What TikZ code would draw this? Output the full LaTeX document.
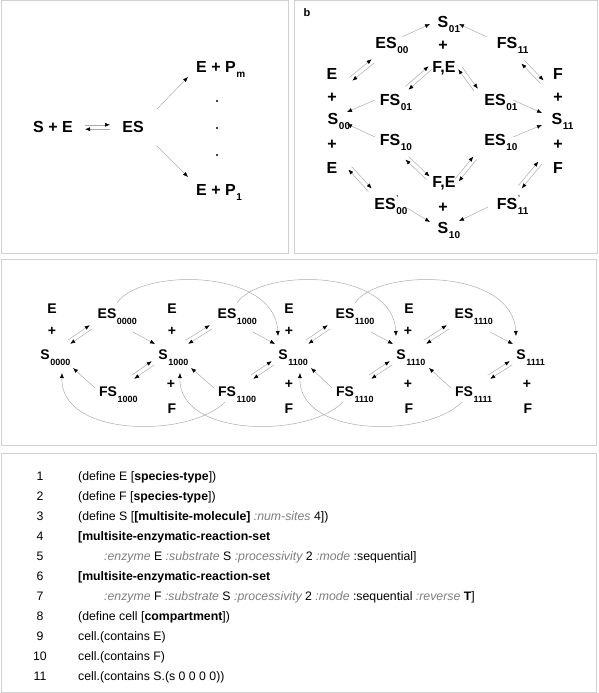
\documentclass[tikz,border=0pt]{standalone}
\usepackage{fontspec}
\setmainfont{Liberation Sans}
\usetikzlibrary{arrows.meta,calc}
\definecolor{kwc}{RGB}{125,125,125}
\definecolor{panelc}{RGB}{208,208,208}
\newcommand\kw[1]{{\color{kwc}\itshape #1}}
\newcommand\sba[1]{\rlap{\kern0.6pt\raisebox{-5pt}[0pt][0pt]{\fontsize{10}{10}\selectfont #1}}}
\newcommand\sbm[1]{\rlap{\kern0.6pt\raisebox{-6pt}[0pt][0pt]{\fontsize{9}{9}\selectfont #1}}}
\newcommand\prm{\rlap{\kern0.8pt\raisebox{9pt}[0pt][0pt]{\fontsize{7}{7}\selectfont '}}}
\newcommand\ra[4]{\draw[ar] ([shift={(#2)}]#1.center) -- ([shift={(#4)}]#3.center);}
\newcommand\rx[4]{%
  \coordinate (rxa) at ([shift={(#2)}]#1.center);
  \coordinate (rxb) at ([shift={(#4)}]#3.center);
  \draw[ar] ($(rxa)!2.2pt!90:(rxb)$) -- ($(rxb)!2.2pt!-90:(rxa)$);
  \draw[ar] ($(rxb)!2.2pt!90:(rxa)$) -- ($(rxa)!2.2pt!-90:(rxb)$);}
\tikzset{
  lab/.style={font=\fontsize{16}{16}\bfseries\selectfont, inner sep=0pt, text height=11.5pt, text depth=0pt},
  labm/.style={font=\fontsize{14}{14}\bfseries\selectfont, inner sep=0pt, text height=10pt, text depth=0pt},
  ar/.style={draw=gray!65, line width=0.5pt, -{Latex[length=5pt,width=4pt,color=black]}},
  panel/.style={draw=panelc, line width=1pt},
  code/.style={font=\fontsize{12.3}{12.3}\selectfont, inner sep=0pt, text height=9pt, text depth=0pt, anchor=west},
  num/.style={font=\fontsize{12.3}{12.3}\selectfont, inner sep=0pt, text height=9pt, text depth=0pt},
  dot/.style={circle, fill=black, inner sep=0pt, minimum size=2.4pt}
}
\begin{document}
\begin{tikzpicture}[x=1pt,y=-1pt]
\useasboundingbox (0,0) rectangle (598,693);
% panels
\draw[panel] (1,1) rectangle (288,253);
\draw[panel] (294,1) rectangle (597,253);
\draw[panel] (1,259) rectangle (596,445);
\draw[panel] (1,453) rectangle (596,692);

% ---------- panel a ----------
\node[lab] (SE) at (53,127) {S + E};
\node[lab] (ES) at (133,127) {ES};
\node[lab] (EPm) at (216,67) {E + P\sba{m}};
\node[lab] (EP1) at (216,190) {E + P\sba{1}};
\node[dot] (d1) at (217,101) {};
\node[dot] (d2) at (217,128) {};
\node[dot] (d3) at (217,155) {};
\rx{SE}{32,0}{ES}{-23,0}
\ra{ES}{24,-18}{EPm}{-28,10}
\ra{ES}{24,19}{EP1}{-28,-13}

% ---------- panel b ----------
\node[font=\fontsize{11}{11}\bfseries\selectfont, inner sep=0pt] (lb) at (307,13) {b};
\node[lab] (S01) at (443,22) {S\sba{01}};
\node[lab] (pT) at (443,45) {+};
\node[lab] (FEt) at (444,67) {F,E};
\node[lab] (ES00) at (386,43) {ES\sba{00}};
\node[lab] (FS11) at (507,43) {FS\sba{11}};
\node[lab] (El1) at (332,74) {E};
\node[lab] (pl1) at (332,97) {+};
\node[lab] (S00) at (333,119) {S\sba{00}};
\node[lab] (pl2) at (332,144) {+};
\node[lab] (El2) at (332,168) {E};
\node[lab] (Fr1) at (558,74) {F};
\node[lab] (pr1) at (558,97) {+};
\node[lab] (S11) at (557,119) {S\sba{11}};
\node[lab] (pr2) at (558,144) {+};
\node[lab] (Fr2) at (558,168) {F};
\node[lab] (FS01) at (390,100) {FS\sba{01}};
\node[lab] (ES01) at (495,100) {ES\sba{01}};
\node[lab] (FS10) at (390,140) {FS\sba{10}};
\node[lab] (ES10) at (495,140) {ES\sba{10}};
\node[lab] (FEb) at (444,182) {F,E};
\node[lab] (pB) at (443,207) {+};
\node[lab] (S10) at (443,228) {S\sba{10}};
\node[lab] (ESp00) at (385,204) {ES\prm\sba{00}};
\node[lab] (FSp11) at (507,204) {FS\prm\sba{11}};

\ra{ES00}{16,-6}{S01}{-13,2}
\ra{FS11}{-20,-6}{S01}{16,2}
\rx{El1}{19,5}{ES00}{-13,18}
\rx{FS01}{17,-12}{FEt}{-14,1}
\rx{FEt}{16,1}{ES01}{-19,-10}
\rx{FS11}{16,19}{Fr1}{-16,8}
\ra{FS01}{-15,0}{S00}{14,-7}
\ra{FS10}{-15,-3}{S00}{14,5}
\ra{ES01}{18,0}{S11}{-15,-6}
\ra{ES10}{18,-3}{S11}{-15,6}
\rx{FS10}{17,18}{FEb}{-16,-4}
\rx{FEb}{13,-2}{ES10}{-20,18}
\rx{El2}{18,0}{ESp00}{-15,-14}
\rx{FSp11}{13,-17}{Fr2}{-18,-5}
\ra{ESp00}{22,4}{S10}{-13,-6}
\ra{FSp11}{-19,3}{S10}{16,-7}

% ---------- middle panel ----------
\node[labm] (E1) at (52,308) {E};
\node[labm] (p1a) at (52,330) {+};
\node[labm] (S0000) at (45,354) {S\sbm{0000}};
\node[labm] (E2) at (172,308) {E};
\node[labm] (p2a) at (172,330) {+};
\node[labm] (S1000) at (163,354) {S\sbm{1000}};
\node[labm] (p2b) at (171,383) {+};
\node[labm] (F2) at (172,408) {F};
\node[labm] (E3) at (289,308) {E};
\node[labm] (p3a) at (289,330) {+};
\node[labm] (S1100) at (283,354) {S\sbm{1100}};
\node[labm] (p3b) at (289,383) {+};
\node[labm] (F3) at (289,408) {F};
\node[labm] (E4) at (409,308) {E};
\node[labm] (p4a) at (408,330) {+};
\node[labm] (S1110) at (401,354) {S\sbm{1110}};
\node[labm] (p4b) at (408,383) {+};
\node[labm] (F4) at (409,408) {F};
\node[labm] (S1111) at (521,354) {S\sbm{1111}};
\node[labm] (p5b) at (527,383) {+};
\node[labm] (F5) at (528,408) {F};
\node[labm] (ES0000) at (107,313) {ES\sbm{0000}};
\node[labm] (ES1000) at (227,313) {ES\sbm{1000}};
\node[labm] (ES1100) at (345,313) {ES\sbm{1100}};
\node[labm] (ES1110) at (464,313) {ES\sbm{1110}};
\node[labm] (FS1000) at (108,391) {FS\sbm{1000}};
\node[labm] (FS1100) at (227,391) {FS\sbm{1100}};
\node[labm] (FS1110) at (345,391) {FS\sbm{1110}};
\node[labm] (FS1111) at (464,391) {FS\sbm{1111}};

\foreach \s/\e in {S0000/ES0000, S1000/ES1000, S1100/ES1100, S1110/ES1110} {\rx{\s}{24,-12}{\e}{-16,14}}
\foreach \f/\s in {FS1000/S1000, FS1100/S1100, FS1110/S1110, FS1111/S1111} {\rx{\f}{25,-14}{\s}{-10,9}}
\foreach \e/\s in {ES0000/S1000, ES1000/S1100, ES1100/S1110, ES1110/S1111} {\ra{\e}{26,19}{\s}{-8,-10}}
\foreach \f/\s in {FS1000/S0000, FS1100/S1000, FS1110/S1100, FS1111/S1110} {\ra{\f}{-13,-3}{\s}{28,14}}
\foreach \a/\b in {ES0000/S1100, ES1000/S1110, ES1100/S1111}
  {\draw[ar] ([shift={(10,-10)}]\a.center) .. controls ([shift={(33,-45)}]\a.center) and ([shift={(-8,-86)}]\b.center) .. ([shift={(-5,-18)}]\b.center);}
\foreach \a/\b in {FS1100/S0000, FS1110/S1000, FS1111/S1100}
  {\draw[ar] ([shift={(-2,11)}]\a.center) .. controls ([shift={(-37,47)}]\a.center) and ([shift={(15,84)}]\b.center) .. ([shift={(17,19)}]\b.center);}

% ---------- code panel ----------
\node[num] (n1) at (40,476) {1};
\node[num] (n2) at (40,496) {2};
\node[num] (n3) at (40,516) {3};
\node[num] (n4) at (40,536) {4};
\node[num] (n5) at (40,556) {5};
\node[num] (n6) at (40,576) {6};
\node[num] (n7) at (40,596) {7};
\node[num] (n8) at (40,616) {8};
\node[num] (n9) at (40,636) {9};
\node[num] (n10) at (40,656) {10};
\node[num] (n11) at (40,676) {11};
\node[code] (c1) at (78,476) {(define E [\textbf{species-type}])};
\node[code] (c2) at (78,496) {(define F [\textbf{species-type}])};
\node[code] (c3) at (78,516) {(define S [\textbf{[multisite-molecule]} \kw{:num-sites} 4])};
\node[code] (c4) at (78,536) {\textbf{[multisite-enzymatic-reaction-set}};
\node[code] (c5) at (104,556) {\kw{:enzyme} E \kw{:substrate} S \kw{:processivity} 2 \kw{:mode} :sequential]};
\node[code] (c6) at (78,576) {\textbf{[multisite-enzymatic-reaction-set}};
\node[code] (c7) at (104,596) {\kw{:enzyme} F \kw{:substrate} S \kw{:processivity} 2 \kw{:mode} :sequential \kw{:reverse} \textbf{T}]};
\node[code] (c8) at (78,616) {(define cell [\textbf{compartment}])};
\node[code] (c9) at (78,636) {cell.(contains E)};
\node[code] (c10) at (78,656) {cell.(contains F)};
\node[code] (c11) at (78,676) {cell.(contains S.(s 0 0 0 0))};
\end{tikzpicture}
\end{document}
